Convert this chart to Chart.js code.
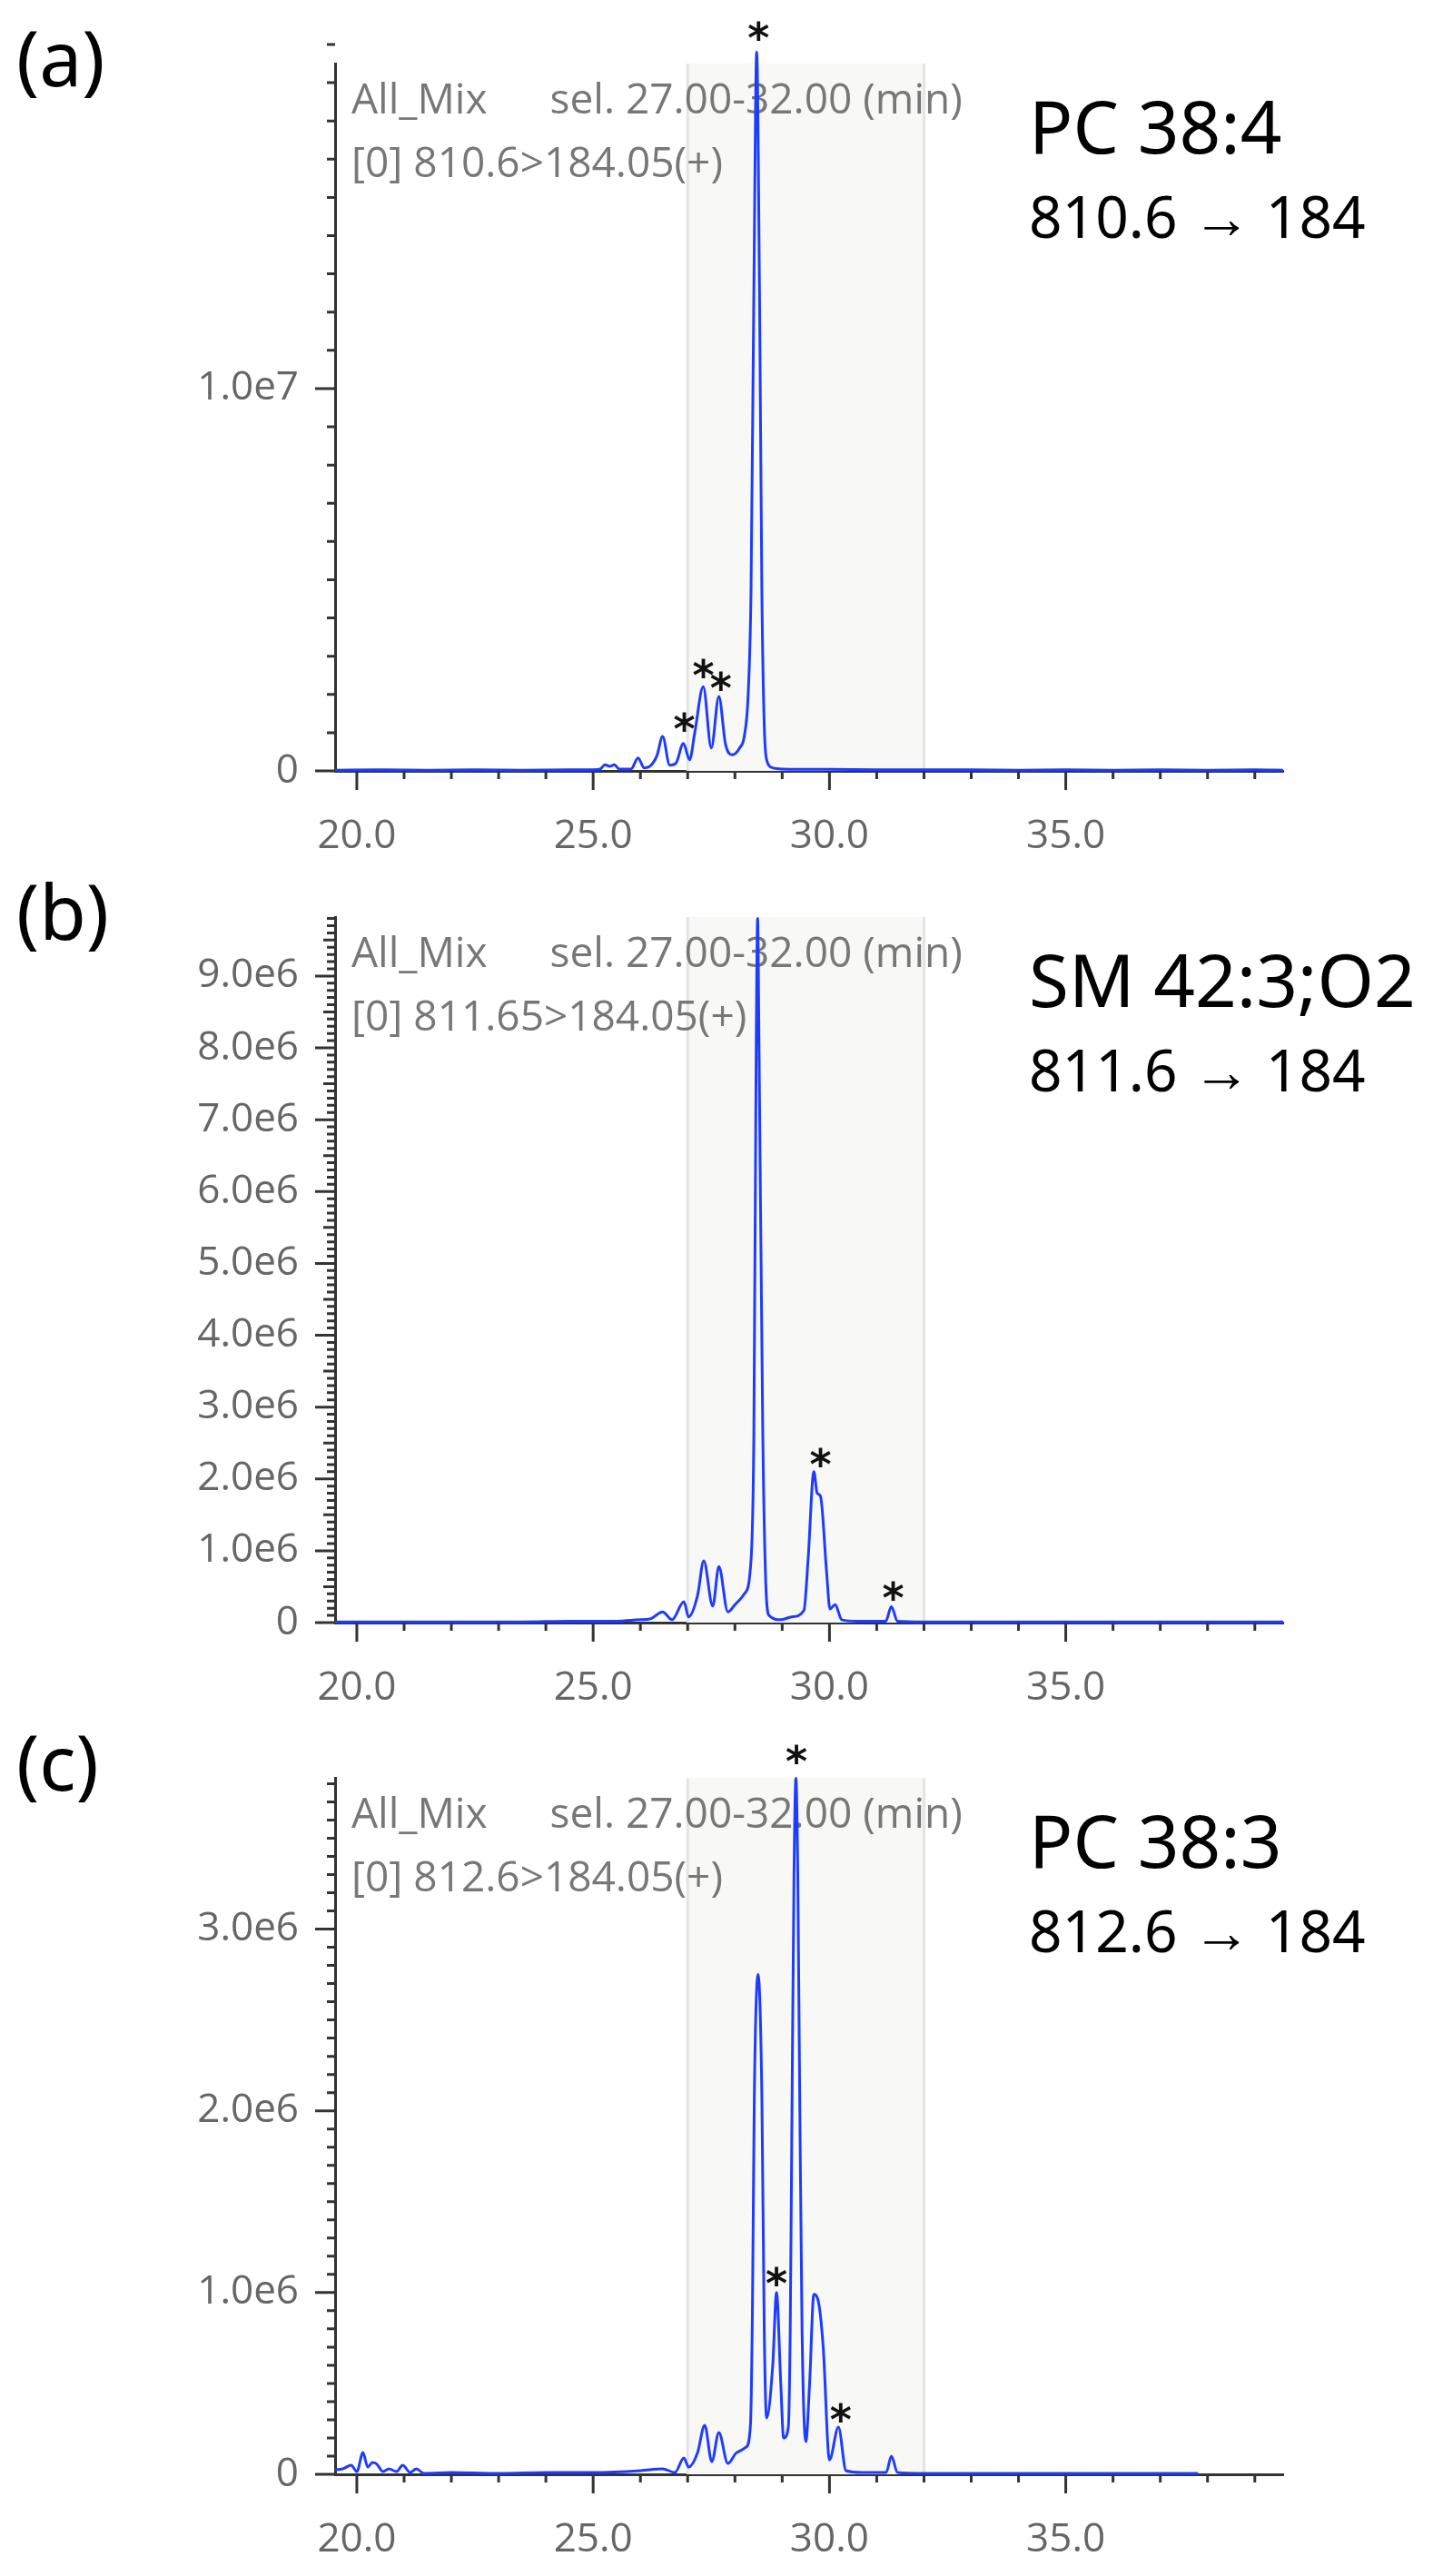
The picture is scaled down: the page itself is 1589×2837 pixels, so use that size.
<!DOCTYPE html>
<html><head><meta charset="utf-8">
<script src="https://cdn.jsdelivr.net/npm/chart.js@4/dist/chart.umd.min.js"></script>
<style>body{margin:0;background:#fff}canvas{display:block}</style>
</head><body>
<canvas id="ca" width="1589" height="950"></canvas>
<canvas id="cb" width="1589" height="950"></canvas>
<canvas id="cc" width="1589" height="937"></canvas>
<script>
// ---- data (intensity in units of 1e6 counts, time in min) ----
const aTime = [19.54,20.5,21.5,22.5,23.5,24.5,25.0,25.15,25.25,25.35,25.45,25.55,25.8,25.95,26.08,26.2,26.35,26.47,26.62,26.75,26.91,27.04,27.15,27.33,27.5,27.66,27.8,27.94,28.1,28.2,28.28,28.34,28.4,28.46,28.52,28.57,28.62,28.68,28.8,29.0,30,31,32,33,34,35,36,37,38,39,39.6];
const aInt  = [0.02,0.03,0.02,0.03,0.02,0.03,0.03,0.05,0.16,0.12,0.16,0.05,0.05,0.34,0.08,0.12,0.4,0.9,0.15,0.2,0.72,0.29,1.0,2.2,0.6,1.95,0.7,0.42,0.6,0.92,2.0,4.7,12.5,18.8,12.5,4.7,1.2,0.25,0.08,0.05,0.04,0.03,0.03,0.03,0.02,0.03,0.02,0.03,0.02,0.03,0.02];
const bTime = [19.54,20.5,21.5,22.5,23.5,24.5,25.5,25.99,26.2,26.47,26.67,26.92,27.02,27.21,27.34,27.53,27.66,27.85,28.0,28.2,28.33,28.4,28.45,28.48,28.51,28.59,28.65,28.72,28.97,29.2,29.46,29.55,29.67,29.74,29.81,29.94,30.01,30.12,30.26,30.6,31.19,31.31,31.44,32,33,34,35,36,37,38,39,39.6];
const bInt  = [0.01,0.01,0.01,0.01,0.01,0.02,0.02,0.04,0.05,0.15,0.04,0.29,0.08,0.38,0.86,0.23,0.78,0.15,0.25,0.4,0.78,2.6,8.0,9.8,8.0,2.6,0.6,0.1,0.04,0.08,0.17,0.9,2.1,1.8,1.76,0.7,0.19,0.25,0.04,0.02,0.02,0.22,0.02,0.01,0.01,0.01,0.01,0.01,0.01,0.01,0.01,0.01];
const cTime = [19.54,19.7,19.88,20.0,20.13,20.23,20.33,20.42,20.55,20.68,20.84,20.97,21.13,21.26,21.42,22,23,24,25,26,26.47,26.73,26.92,27.02,27.21,27.36,27.51,27.66,27.85,28.04,28.24,28.33,28.37,28.41,28.49,28.57,28.62,28.67,28.8,28.88,28.97,29.03,29.13,29.17,29.21,29.25,29.29,29.33,29.37,29.42,29.5,29.58,29.67,29.78,29.87,30.0,30.19,30.35,30.7,31.2,31.31,31.44,32,33,34,35,36,37,37.8];
const cInt  = [0.025,0.03,0.05,0.015,0.12,0.04,0.065,0.057,0.015,0.03,0.015,0.05,0.01,0.03,0.005,0.01,0.005,0.01,0.01,0.02,0.03,0.01,0.09,0.04,0.12,0.27,0.07,0.23,0.06,0.12,0.15,0.28,0.9,2.08,2.75,2.08,0.8,0.31,0.6,1.0,0.5,0.2,0.26,0.8,2.1,3.3,3.83,3.3,2.1,0.8,0.18,0.5,0.99,0.93,0.69,0.08,0.26,0.02,0.01,0.01,0.1,0.01,0.005,0.005,0.005,0.005,0.005,0.005,0.005];

const xTickLabels = [20,25,30,35];
const aYLabels = [0,10];
const bYLabels = [0,1,2,3,4,5,6,7,8,9];
const cYLabels = [0,1,2,3];
// asterisk annotations [time, intensity(1e6)]
const aStars = [[26.93,1.24],[27.33,2.64],[27.7,2.3],[28.5,19.3]];
const bStars = [[29.81,2.27],[31.35,0.42]];
const cStars = [[29.3,3.95],[28.88,1.08],[30.24,0.33]];
const panelLetters = ['(a)','(b)','(c)'];
const compounds = ['PC 38:4','SM 42:3;O2','PC 38:3'];
const transitions = ['810.6 → 184','811.6 → 184','812.6 → 184'];
const channels = ['[0] 810.6>184.05(+)','[0] 811.65>184.05(+)','[0] 812.6>184.05(+)'];
const sampleText = 'All_Mix    sel. 27.00-32.00 (min)';
const selWindow = [27.0,32.0];

function fmtY(v){ return v===0 ? '0' : (v*1e6).toExponential(1).replace('+',''); }

function makeChart(id, idx, times, ints, yMax, yLabels, minorStep, midStep, stars, top, bottom, letterBase){
  const cv = document.getElementById(id);
  const H = cv.height;
  const overlay = {
    id:'overlay'+idx,
    beforeDatasetsDraw(ch){
      const c=ch.ctx, x=ch.scales.x, y=ch.scales.y, a=ch.chartArea;
      const x0=x.getPixelForValue(selWindow[0]), x1=x.getPixelForValue(selWindow[1]);
      c.save();
      c.fillStyle='#f8f8f6'; c.fillRect(x0,a.top,x1-x0,a.bottom-a.top);
      c.strokeStyle='#e4e4e4'; c.lineWidth=3;
      c.beginPath(); c.moveTo(x0,a.top); c.lineTo(x0,a.bottom); c.moveTo(x1,a.top); c.lineTo(x1,a.bottom); c.stroke();
      // texts
      c.fillStyle='#777'; c.font='46px "Open Sans"'; c.textBaseline='alphabetic'; c.textAlign='left';
      c.fillText(sampleText.replace(/ {4}/,'\u2003\u2002'), a.left+18, a.top+55);
      c.fillText(channels[idx], a.left+18, a.top+125);
      c.restore();
    },
    afterDraw(ch){
      const c=ch.ctx, x=ch.scales.x, y=ch.scales.y, a=ch.chartArea;
      c.save();
      c.strokeStyle='#333'; c.lineWidth=3;
      c.beginPath();
      for(let t=20;t<=39;t++){
        const px=x.getPixelForValue(t); const L = (t%5===0)?21:9;
        c.moveTo(px,a.bottom); c.lineTo(px,a.bottom+L);
      }
      const n=Math.round(yMax/minorStep);
      for(let k=0;k<=n;k++){
        const v=k*minorStep; const py=y.getPixelForValue(v);
        let L=9;
        if(yLabels.some(l=>Math.abs(l-v)<1e-9)) L=22;
        else if(midStep && Math.abs(v/midStep-Math.round(v/midStep))<1e-6) L=13;
        c.moveTo(a.left-L,py); c.lineTo(a.left,py);
      }
      c.stroke();
      // asterisks
      c.fillStyle='#111'; c.font='bold 46px "DejaVu Sans"'; c.textAlign='center'; c.textBaseline='middle';
      stars.forEach(s=>c.fillText('*', x.getPixelForValue(s[0]), y.getPixelForValue(s[1])+10));
      // labels
      c.fillStyle='#000'; c.textAlign='left'; c.textBaseline='alphabetic';
      c.font='80px "Noto Sans"'; c.fillText(compounds[idx], 1133, a.top+99);
      c.font='64px "Noto Sans"'; c.fillText(transitions[idx], 1133, a.top+192);
      c.font='84px "Noto Sans"'; c.fillText(panelLetters[idx], 18, letterBase);
      c.restore();
    }
  };
  return new Chart(cv, {
    type:'line',
    data:{datasets:[{data: times.map((t,i)=>({x:t,y:ints[i]})), borderColor:'#1e3cff', borderWidth:3, pointRadius:0, cubicInterpolationMode:'monotone', fill:false, clip:false}]},
    options:{
      responsive:false, animation:false, devicePixelRatio:1,
      layout:{padding:{top:top, right:1589-1413, left:0, bottom:H-bottom-100}},
      plugins:{legend:{display:false}, tooltip:{enabled:false}},
      scales:{
        x:{type:'linear', min:19.54, max:39.6,
           afterBuildTicks(s){ s.ticks = xTickLabels.map(v=>({value:v})); },
           afterFit(s){ s.height=100; },
           ticks:{callback:v=>v.toFixed(1), color:'#666', font:{family:'Open Sans', size:44}, padding:38, maxRotation:0, autoSkip:false},
           grid:{display:false}, border:{display:true,color:'#333',width:3}},
        y:{type:'linear', min:0, max:yMax,
           afterBuildTicks(s){ s.ticks = yLabels.map(v=>({value:v})); },
           afterFit(s){ s.width=369; },
           ticks:{callback:v=>fmtY(v), color:'#666', font:{family:'Open Sans', size:44}, padding:32, autoSkip:false},
           grid:{display:false}, border:{display:true,color:'#333',width:3}}
      }
    },
    plugins:[overlay]
  });
}
makeChart('ca',0,aTime,aInt,18.5,aYLabels,1,0,aStars,70,849,95);
makeChart('cb',1,bTime,bInt,9.82,bYLabels,0.1,0.5,bStars,60,837,85);
makeChart('cc',2,cTime,cInt,3.83,cYLabels,0.1,0,cStars,48,825,72);
</script>
</body></html>
